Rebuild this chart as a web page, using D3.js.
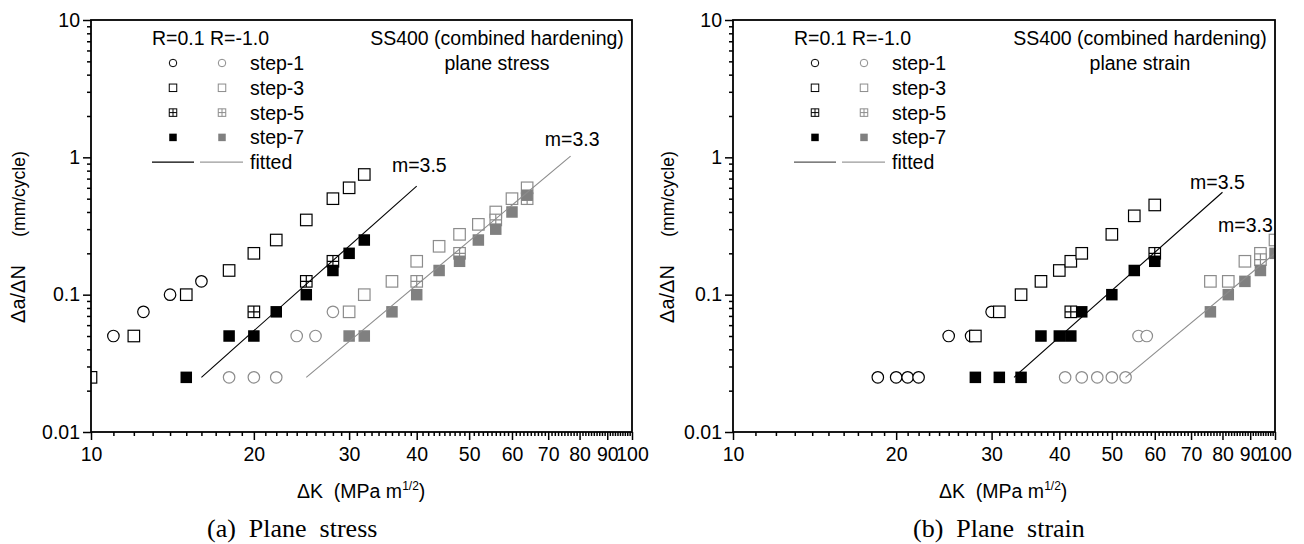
<!DOCTYPE html>
<html>
<head>
<meta charset="utf-8">
<script src="https://cdn.jsdelivr.net/npm/d3@7"></script>
<style>
body { margin: 0; background: #fff; }
svg text { font-family: "Liberation Sans", Arial, sans-serif; fill: #000; }
</style>
</head>
<body>
<svg id="chart" width="1304" height="544"></svg>
<script>
// ---- data ----
const steps = ["step-1", "step-3", "step-5", "step-7"]
const kinds = ["circle", "square", "cross", "filled"]
const ratios = ["R=0.1", "R=-1.0"]

// (a) plane stress
const a_r01_s1_k = [11, 12.5, 14, 16]
const a_r01_s1_v = [0.05, 0.075, 0.1, 0.125]
const a_r01_s3_k = [10, 12, 15, 18, 20, 22, 25, 28, 30, 32]
const a_r01_s3_v = [0.025, 0.05, 0.1, 0.15, 0.2, 0.25, 0.35, 0.5, 0.6, 0.75]
const a_r01_s5_k = [20, 25, 28]
const a_r01_s5_v = [0.075, 0.125, 0.175]
const a_r01_s7_k = [15, 18, 20, 22, 25, 28, 30, 32]
const a_r01_s7_v = [0.025, 0.05, 0.05, 0.075, 0.1, 0.15, 0.2, 0.25]
const a_rm1_s1_k = [18, 20, 22, 24, 26, 28]
const a_rm1_s1_v = [0.025, 0.025, 0.025, 0.05, 0.05, 0.075]
const a_rm1_s3_k = [30, 32, 36, 40, 44, 48, 52, 56, 60, 64]
const a_rm1_s3_v = [0.075, 0.1, 0.125, 0.175, 0.225, 0.275, 0.325, 0.4, 0.5, 0.6]
const a_rm1_s5_k = [40, 48, 56, 64]
const a_rm1_s5_v = [0.125, 0.2, 0.35, 0.5]
const a_rm1_s7_k = [30, 32, 36, 40, 44, 48, 52, 56, 60, 64]
const a_rm1_s7_v = [0.05, 0.05, 0.075, 0.1, 0.15, 0.175, 0.25, 0.3, 0.4, 0.53]
const a_fit_r01_k = [16, 40]
const a_fit_r01_v = [0.025, 0.618]
const a_fit_rm1_k = [25, 77]
const a_fit_rm1_v = [0.025, 1.02]

// (b) plane strain
const b_r01_s1_k = [18.5, 20, 21, 22, 25, 27.5, 30]
const b_r01_s1_v = [0.025, 0.025, 0.025, 0.025, 0.05, 0.05, 0.075]
const b_r01_s3_k = [28, 31, 34, 37, 40, 42, 44, 50, 55, 60]
const b_r01_s3_v = [0.05, 0.075, 0.1, 0.125, 0.15, 0.175, 0.2, 0.275, 0.375, 0.45]
const b_r01_s5_k = [42, 60]
const b_r01_s5_v = [0.075, 0.2]
const b_r01_s7_k = [28, 31, 34, 37, 40, 42, 44, 50, 55, 60]
const b_r01_s7_v = [0.025, 0.025, 0.025, 0.05, 0.05, 0.05, 0.075, 0.1, 0.15, 0.175]
const b_rm1_s1_k = [41, 44, 47, 50, 53, 56, 58]
const b_rm1_s1_v = [0.025, 0.025, 0.025, 0.025, 0.025, 0.05, 0.05]
const b_rm1_s3_k = [76, 82, 88, 94, 100]
const b_rm1_s3_v = [0.125, 0.125, 0.175, 0.2, 0.25]
const b_rm1_s5_k = [94]
const b_rm1_s5_v = [0.18]
const b_rm1_s7_k = [76, 82, 88, 94, 100]
const b_rm1_s7_v = [0.075, 0.1, 0.125, 0.15, 0.2]
const b_fit_r01_k = [33, 80]
const b_fit_r01_v = [0.025, 0.557]
const b_fit_rm1_k = [53, 100]
const b_fit_rm1_v = [0.025, 0.2]

// slope labels (text, anchor in data coords)
const a_slope_text = ["m=3.5", "m=3.3"]
const a_slope_k = [36, 69]
const a_slope_v = [0.78, 1.2]
const b_slope_text = ["m=3.5", "m=3.3"]
const b_slope_k = [69.7, 78.5]
const b_slope_v = [0.584, 0.284]

// axis ticks
const x_domain = [10, 100]
const y_domain = [0.01, 10]
const x_major = [10, 20, 30, 40, 50, 60, 70, 80, 90, 100]
const y_major = [0.01, 0.1, 1, 10]

const zip = (k, v) => k.map((d, i) => [d, v[i]])

const panels = [
    {
        x0: 91, x1: 632, title: "plane stress", caption: "(a)  Plane  stress", captionX: 207, ylabX: 25,
        sets: [
            [zip(a_r01_s1_k, a_r01_s1_v), zip(a_r01_s3_k, a_r01_s3_v), zip(a_r01_s5_k, a_r01_s5_v), zip(a_r01_s7_k, a_r01_s7_v)],
            [zip(a_rm1_s1_k, a_rm1_s1_v), zip(a_rm1_s3_k, a_rm1_s3_v), zip(a_rm1_s5_k, a_rm1_s5_v), zip(a_rm1_s7_k, a_rm1_s7_v)]
        ],
        fits: [zip(a_fit_r01_k, a_fit_r01_v), zip(a_fit_rm1_k, a_fit_rm1_v)],
        slopes: a_slope_text.map((t, i) => [t, a_slope_k[i], a_slope_v[i]]),
        legendLine: "#000"
    },
    {
        x0: 733, x1: 1275, title: "plane strain", caption: "(b)  Plane  strain", captionX: 913, ylabX: 674,
        sets: [
            [zip(b_r01_s1_k, b_r01_s1_v), zip(b_r01_s3_k, b_r01_s3_v), zip(b_r01_s5_k, b_r01_s5_v), zip(b_r01_s7_k, b_r01_s7_v)],
            [zip(b_rm1_s1_k, b_rm1_s1_v), zip(b_rm1_s3_k, b_rm1_s3_v), zip(b_rm1_s5_k, b_rm1_s5_v), zip(b_rm1_s7_k, b_rm1_s7_v)]
        ],
        fits: [zip(b_fit_r01_k, b_fit_r01_v), zip(b_fit_rm1_k, b_fit_rm1_v)],
        slopes: b_slope_text.map((t, i) => [t, b_slope_k[i], b_slope_v[i]]),
        legendLine: "#555"
    }
]

const y_top = 20
const y_bottom = 432
const font_size = 19.5
const stroke_col = ["#000", "#8c8c8c"]
const fill_col = ["#000", "#808080"]
const line_col = ["#000", "#8c8c8c"]

const svg = d3.select("#chart")

// one marker, centred on (cx, cy)
function marker(g, kind, series, cx, cy, size, sw) {
    const h = size / 2
    if (kind === "circle") {
        g.append("circle").attr("cx", cx).attr("cy", cy).attr("r", h)
            .attr("fill", "#fff").attr("stroke", stroke_col[series]).attr("stroke-width", sw)
    } else if (kind === "filled") {
        g.append("rect").attr("x", cx - h).attr("y", cy - h).attr("width", size).attr("height", size)
            .attr("fill", fill_col[series])
    } else {
        g.append("rect").attr("x", cx - h).attr("y", cy - h).attr("width", size).attr("height", size)
            .attr("fill", "#fff").attr("stroke", stroke_col[series]).attr("stroke-width", sw)
        if (kind === "cross") {
            g.append("path")
                .attr("d", `M${cx - h},${cy}H${cx + h}M${cx},${cy - h}V${cy + h}`)
                .attr("stroke", stroke_col[series]).attr("stroke-width", sw)
        }
    }
}

panels.forEach((p, pi) => {
    const x = d3.scaleLog().domain(x_domain).range([p.x0, p.x1])
    const y = d3.scaleLog().domain(y_domain).range([y_bottom, y_top])
    const g = svg.append("g")

    // clip for the data
    const clipId = "clip" + pi
    svg.append("clipPath").attr("id", clipId)
        .append("rect").attr("x", p.x0).attr("y", y_top).attr("width", p.x1 - p.x0).attr("height", y_bottom - y_top)

    // markers
    const marks = g.append("g").attr("clip-path", `url(#${clipId})`)
    p.sets.forEach((set, si) => {
        set.forEach((pts, ki) => {
            pts.forEach(d => marker(marks, kinds[ki], si, x(d[0]), y(d[1]), 11.5, 1.2))
        })
    })

    // fitted lines
    p.fits.forEach((f, si) => {
        marks.append("path")
            .attr("d", d3.line().x(d => x(d[0])).y(d => y(d[1]))(f))
            .attr("fill", "none").attr("stroke", line_col[si]).attr("stroke-width", 1.1)
    })

    // slope labels
    p.slopes.forEach(s => {
        g.append("text").attr("x", x(s[1])).attr("y", y(s[2]))
            .attr("font-size", font_size).text(s[0])
    })

    // minor ticks
    const x_minor = d3.range(10, 101).filter(v => v % 10 !== 0)
    const y_minor = []
    ;[0.01, 0.1, 1].forEach(dec => d3.range(2, 10).forEach(m => y_minor.push(+(dec * m).toPrecision(3))))

    g.append("g").attr("transform", `translate(0,${y_bottom})`)
        .call(d3.axisBottom(x).tickValues(x_minor).tickSize(4).tickSizeOuter(0).tickFormat(""))
        .call(a => a.select(".domain").remove())
    g.append("g").attr("transform", `translate(${p.x0},0)`)
        .call(d3.axisLeft(y).tickValues(y_minor).tickSize(4).tickSizeOuter(0).tickFormat(""))
        .call(a => a.select(".domain").remove())

    // major ticks + labels
    const xa = g.append("g").attr("transform", `translate(0,${y_bottom})`)
        .call(d3.axisBottom(x).tickValues(x_major).tickSize(8).tickPadding(7).tickSizeOuter(0).tickFormat(d3.format("d")))
    const ya = g.append("g").attr("transform", `translate(${p.x0},0)`)
        .call(d3.axisLeft(y).tickValues(y_major).tickSize(8).tickPadding(3).tickSizeOuter(0).tickFormat(d3.format("~g")))
    ;[xa, ya].forEach(a => {
        a.selectAll("text").attr("font-size", font_size).attr("font-family", null)
        a.select(".domain").remove()
    })
    g.selectAll(".tick line").attr("stroke", "#000").attr("stroke-width", 1.5)

    // frame
    g.append("rect").attr("x", p.x0).attr("y", y_top).attr("width", p.x1 - p.x0).attr("height", y_bottom - y_top)
        .attr("fill", "none").attr("stroke", "#000").attr("stroke-width", 1.8)

    // title
    const tx = p.x1 - 135
    g.append("text").attr("x", tx).attr("y", 45).attr("text-anchor", "middle").attr("font-size", font_size)
        .text("SS400 (combined hardening)")
    g.append("text").attr("x", tx).attr("y", 70).attr("text-anchor", "middle").attr("font-size", font_size)
        .text(p.title)

    // legend
    const lx = p.x0
    g.append("text").attr("x", lx + 61).attr("y", 45).attr("font-size", font_size).text(ratios.join(" "))
    const rowY = i => 63 + i * 24.8
    steps.forEach((s, i) => {
        marker(g, kinds[i], 0, lx + 82, rowY(i), 7.5, 1)
        marker(g, kinds[i], 1, lx + 131, rowY(i), 7.5, 1)
        g.append("text").attr("x", lx + 159).attr("y", rowY(i) + 7).attr("font-size", font_size).text(s)
    })
    const fy = rowY(4)
    g.append("line").attr("x1", lx + 61).attr("x2", lx + 103).attr("y1", fy).attr("y2", fy)
        .attr("stroke", p.legendLine).attr("stroke-width", 1.3)
    g.append("line").attr("x1", lx + 109).attr("x2", lx + 152).attr("y1", fy).attr("y2", fy)
        .attr("stroke", "#9a9a9a").attr("stroke-width", 1.3)
    g.append("text").attr("x", lx + 159).attr("y", fy + 7).attr("font-size", font_size).text("fitted")

    // axis titles
    const xt = g.append("text").attr("x", p.x0 + 206).attr("y", 498).attr("font-size", font_size)
        .style("white-space", "pre")
    xt.append("tspan").text("\u0394K  (MPa m")
    xt.append("tspan").attr("font-size", 12).attr("dy", -8).text("1/2")
    xt.append("tspan").attr("dy", 8).text(")")

    g.append("text").attr("transform", `translate(${p.ylabX},294) rotate(-90)`)
        .attr("text-anchor", "middle").attr("font-size", 20)
        .text("\u0394a/\u0394N")
    g.append("text").attr("transform", `translate(${p.ylabX},194) rotate(-90)`)
        .attr("text-anchor", "middle").attr("font-size", 17.5)
        .text("(mm/cycle)")

    // caption
    g.append("text").attr("x", p.captionX).attr("y", 537).attr("font-size", 26)
        .style("font-family", "'Liberation Serif', 'Times New Roman', serif").style("white-space", "pre")
        .text(p.caption)
})
</script>
</body>
</html>
